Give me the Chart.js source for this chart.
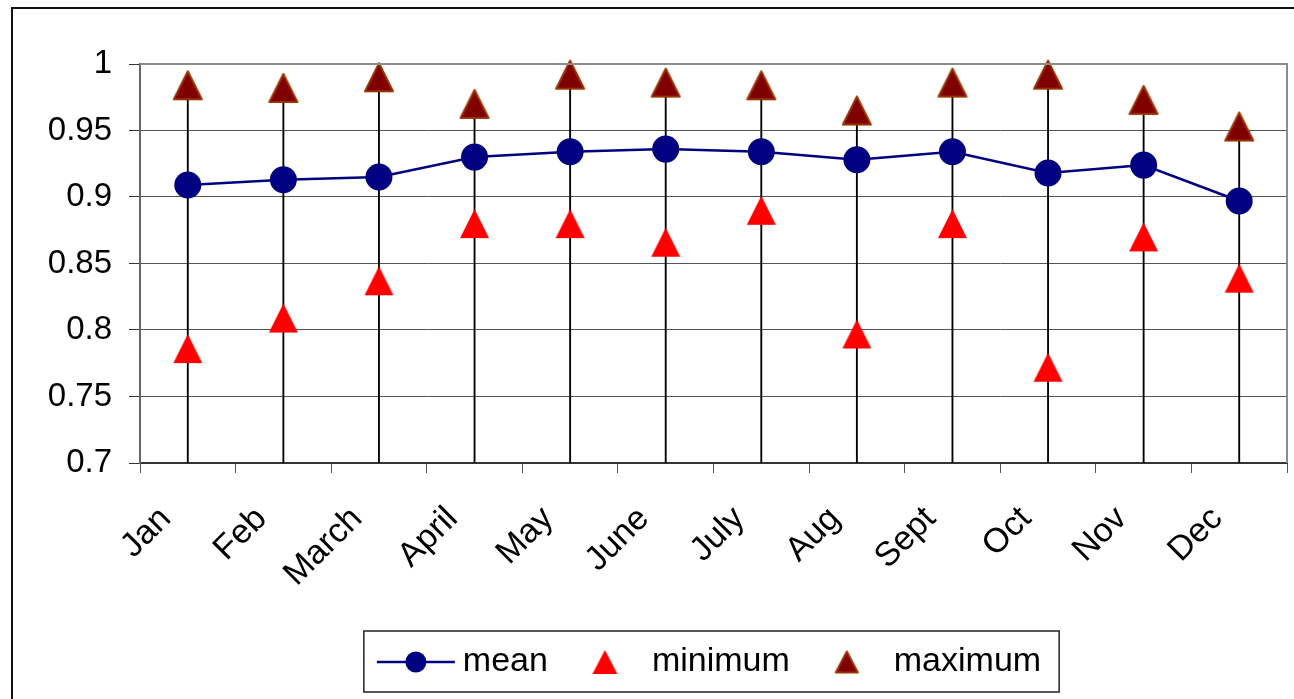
<!DOCTYPE html>
<html lang="en">
<head>
<meta charset="UTF-8">
<title>Monthly mean, minimum and maximum</title>
<script src="https://cdn.jsdelivr.net/npm/chart.js"></script>
<style>
  html, body { margin: 0; padding: 0; background: #fff; }
  #wrap { position: relative; width: 1294px; height: 699px; }
</style>
</head>
<body>
<div id="wrap"><canvas id="chart" width="1294" height="699"></canvas></div>
<script>
  // values
  const months = ['Jan', 'Feb', 'March', 'April', 'May', 'June', 'July', 'Aug', 'Sept', 'Oct', 'Nov', 'Dec'];
  const meanVals = [0.909, 0.913, 0.915, 0.930, 0.934, 0.936, 0.934, 0.928, 0.934, 0.918, 0.924, 0.897];
  const minVals  = [0.786, 0.809, 0.837, 0.880, 0.880, 0.866, 0.890, 0.797, 0.880, 0.772, 0.870, 0.839];
  const maxVals  = [0.984, 0.982, 0.990, 0.970, 0.992, 0.986, 0.984, 0.965, 0.986, 0.992, 0.973, 0.953];
  const yTicks = [0.7, 0.75, 0.8, 0.85, 0.9, 0.95, 1];
  const seriesNames = ['mean', 'minimum', 'maximum'];

  const NAVY = '#000080';
  const RED = '#ff0000';
  const MAROON = '#800000';
  const MAROON_EDGE = '#993300';
  const FONT = "'Liberation Sans', Arial, sans-serif";

  // triangle marker, drawn on a small canvas so the value sits at the middle of the shape (like Excel)
  function makeTriangle(w, h, fill, stroke, lw) {
    const pad = lw + 1;
    const c = document.createElement('canvas');
    c.width = w + 2 * pad;
    c.height = h + 2 * pad;
    const g = c.getContext('2d');
    g.beginPath();
    g.moveTo(pad + w / 2, pad);
    g.lineTo(pad + w, pad + h);
    g.lineTo(pad, pad + h);
    g.closePath();
    g.fillStyle = fill;
    g.fill();
    if (lw) {
      g.lineWidth = lw;
      g.strokeStyle = stroke;
      g.lineJoin = 'round';
      g.stroke();
    }
    return c;
  }

  function makeMeanIcon() {
    const c = document.createElement('canvas');
    c.width = 80; c.height = 24;
    const g = c.getContext('2d');
    g.strokeStyle = NAVY;
    g.lineWidth = 2.5;
    g.beginPath(); g.moveTo(1, 12); g.lineTo(79, 12); g.stroke();
    g.fillStyle = NAVY;
    g.beginPath(); g.arc(40, 12, 10.5, 0, Math.PI * 2); g.fill();
    return c;
  }

  const minMarker = makeTriangle(29, 29, RED, RED, 0);
  const maxMarker = makeTriangle(28, 28, MAROON, MAROON_EDGE, 2);
  const legendIcons = [makeMeanIcon(), makeTriangle(25, 24, RED, RED, 0), makeTriangle(22, 21, MAROON, MAROON_EDGE, 2)];

  // outer frame, plot border on top/right, box round the legend
  const framePlugin = {
    id: 'frame',
    beforeDraw(chart) {
      const ctx = chart.ctx;
      ctx.save();
      ctx.fillStyle = '#fff';
      ctx.fillRect(0, 0, chart.width, chart.height);
      ctx.strokeStyle = '#111';
      ctx.lineWidth = 2;
      ctx.beginPath();
      ctx.moveTo(12, chart.height);
      ctx.lineTo(12, 8);
      ctx.lineTo(chart.width, 8);
      ctx.stroke();
      ctx.restore();
    },
    afterDraw(chart) {
      const ctx = chart.ctx;
      const a = chart.chartArea;
      ctx.save();
      ctx.strokeStyle = '#8c8c8c';
      ctx.lineWidth = 2;
      ctx.beginPath();
      ctx.moveTo(a.left, a.top);
      ctx.lineTo(a.right, a.top);
      ctx.lineTo(a.right, a.bottom);
      ctx.stroke();

      const boxes = chart.legend.legendHitBoxes;
      if (boxes && boxes.length) {
        const left = boxes[0].left - 22;
        const last = boxes[boxes.length - 1];
        const right = last.left + last.width + 18;
        const cy = boxes[0].top + boxes[0].height / 2;
        ctx.strokeStyle = '#222';
        ctx.lineWidth = 1.5;
        ctx.strokeRect(left, cy - 31, right - left, 61);
      }
      ctx.restore();
    }
  };

  const ctx = document.getElementById('chart').getContext('2d');
  new Chart(ctx, {
    type: 'line',
    data: {
      labels: months,
      datasets: [
        {
          // drop lines from the highest point down to the axis
          type: 'bar',
          label: 'drop',
          data: maxVals.map(v => [yTicks[0], v]),
          backgroundColor: '#000',
          barThickness: 1.2,
          order: 10
        },
        {
          label: seriesNames[0],
          data: meanVals,
          borderColor: NAVY,
          borderWidth: 2.5,
          pointRadius: 13.5,
          pointHoverRadius: 13.5,
          pointBackgroundColor: NAVY,
          pointBorderWidth: 0,
          clip: false,
          order: 3
        },
        {
          label: seriesNames[1],
          data: minVals,
          showLine: false,
          pointStyle: minMarker,
          clip: false,
          order: 2
        },
        {
          label: seriesNames[2],
          data: maxVals,
          showLine: false,
          pointStyle: maxMarker,
          clip: false,
          order: 1
        }
      ]
    },
    options: {
      responsive: false,
      animation: false,
      layout: { autoPadding: false, padding: { top: 64, right: 7, bottom: 10, left: 0 } },
      plugins: {
        tooltip: { enabled: false },
        legend: {
          position: 'bottom',
          fullSize: false,
          labels: {
            usePointStyle: true,
            pointStyleWidth: 60,
            padding: 27,
            color: '#000',
            font: { family: FONT, size: 34 },
            generateLabels: () => seriesNames.map((name, i) => ({
              text: name,
              pointStyle: legendIcons[i],
              fillStyle: 'transparent',
              strokeStyle: 'transparent',
              lineWidth: 0,
              hidden: false,
              datasetIndex: i + 1
            }))
          }
        }
      },
      scales: {
        x: {
          offset: true,
          grid: {
            offset: true,
            drawOnChartArea: false,
            drawTicks: true,
            tickLength: 10,
            color: '#555'
          },
          border: { color: '#333', width: 2 },
          ticks: {
            autoSkip: false,
            minRotation: 45,
            maxRotation: 45,
            labelOffset: -22,
            padding: 26,
            color: '#000',
            font: { family: FONT, size: 34 }
          },
          afterFit(scale) {
            scale.height = 155;
            scale.paddingLeft = 0;
            scale.paddingRight = 0;
          }
        },
        y: {
          min: yTicks[0],
          max: yTicks[yTicks.length - 1],
          afterBuildTicks(scale) { scale.ticks = yTicks.map(v => ({ value: v })); },
          grid: {
            color: c => (c.tick && c.tick.value >= 0.999) ? 'rgba(0,0,0,0)' : '#555',
            tickColor: '#333',
            tickLength: 11,
            lineWidth: 1
          },
          border: { color: '#666', width: 2 },
          ticks: {
            padding: 17,
            color: '#000',
            font: { family: FONT, size: 33 },
            callback: v => String(parseFloat(Number(v).toFixed(2)))
          },
          afterFit(scale) { scale.width = 140; }
        }
      }
    },
    plugins: [framePlugin]
  });
</script>
</body>
</html>
